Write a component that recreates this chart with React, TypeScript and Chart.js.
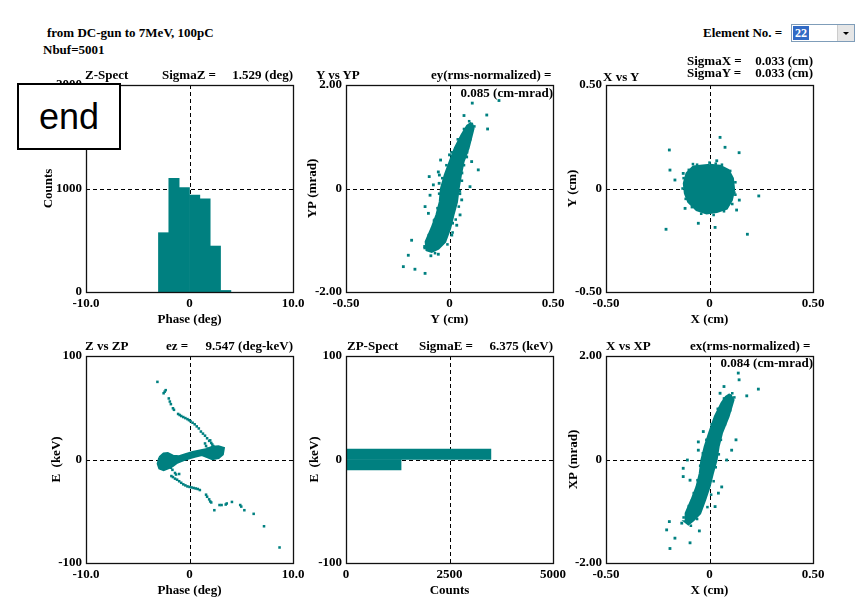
import React, { useEffect, useRef } from 'react';
import { Chart, registerables } from 'chart.js';
Chart.register(...registerables);

const TEAL = '#008080';
const SERIF = '"Liberation Serif", "Times New Roman", serif';

// ---- Z-Spect histogram (phase bins, deg) ----
const zBinCenters = [-2.5, -1.5, -0.5, 0.5, 1.5, 2.5, 3.5];
const zCounts = [573, 1098, 1008, 937, 899, 444, 15];

// ---- ZP-Spect histogram (energy bins, keV) ----
const eBinCenters = [5, -5];
const eCounts = [3500, 1330];

// ---- Y vs YP ----
const yypCore: number[][] = [
  [0.107, 1.27], [0.115, 1.16], [0.091, 0.78], [0.067, 0.52], [0.054, 0.26], [0.043, 0.0],
  [0.035, -0.26], [0.018, -0.51], [0.002, -0.77], [-0.022, -1.03], [-0.054, -1.16], [-0.086, -1.22],
  [-0.110, -1.19], [-0.114, -1.03], [-0.086, -0.77], [-0.062, -0.51], [-0.046, -0.26], [-0.040, 0.0],
  [-0.022, 0.26], [0.002, 0.52], [0.027, 0.78], [0.059, 1.03], [0.086, 1.21], [0.107, 1.27],
];
const yypEdge: number[][] = [
  [0.12, 1.2], [0.10, 0.95], [0.085, 0.7], [0.07, 0.45], [0.06, 0.15], [0.05, -0.05], [0.045, -0.35],
  [0.03, -0.6], [0.015, -0.85], [-0.01, -1.08], [-0.07, -1.25], [-0.12, -1.15], [-0.1, -0.9],
  [-0.075, -0.62], [-0.058, -0.38], [-0.05, -0.1], [-0.035, 0.2], [-0.015, 0.45], [0.01, 0.7],
  [0.04, 0.95], [0.07, 1.15], [0.095, 1.3],
];
const yypOut: number[][] = [
  [0.180, 1.42], [0.184, 1.15], [0.070, 1.41], [0.139, 0.36], [0.099, 0.035], [-0.078, 0.07],
  [-0.098, 0.23], [-0.049, 0.26], [-0.043, 0.55], [-0.118, -0.35], [-0.102, -0.48], [0.051, -0.51],
  [0.035, -0.71], [0.011, -0.90], [-0.183, -1.00], [-0.199, -1.29], [-0.223, -1.51], [-0.167, -1.56],
  [-0.118, -1.64], [-0.054, -1.27], [0.107, 0.52], [0.083, 0.61], [-0.054, 0.32], [-0.094, -0.13],
  [0.110, 1.65], [0.239, 1.70], [0.059, -0.22], [0.015, -0.67], [0.075, 0.95], [0.06, 0.3],
  [-0.07, -0.6], [0.0, 0.65], [-0.05, 0.1], [0.05, -0.1], [-0.09, -1.3], [-0.12, -1.12],
];

// ---- X vs Y ----
const xyCore: number[][] = [
  [0.002, 0.114], [-0.078, 0.105], [-0.110, 0.073], [-0.123, 0.025], [-0.118, -0.023], [-0.102, -0.064],
  [-0.062, -0.104], [-0.014, -0.120], [0.035, -0.112], [0.083, -0.096], [0.107, -0.056], [0.118, -0.007],
  [0.112, 0.049], [0.091, 0.089], [0.051, 0.109], [0.002, 0.114],
];
const xyEdge: number[][] = [
  [-0.13, 0.0], [-0.125, 0.05], [-0.1, 0.09], [-0.06, 0.115], [0.0, 0.125], [0.06, 0.115], [0.1, 0.085],
  [0.125, 0.03], [0.125, -0.03], [0.11, -0.075], [0.07, -0.11], [0.02, -0.128], [-0.04, -0.122],
  [-0.085, -0.09], [-0.115, -0.05], [-0.08, 0.118], [0.03, 0.12], [0.12, -0.02],
];
const xyOut: number[][] = [
  [-0.194, 0.186], [0.075, 0.199], [0.143, 0.173], [-0.191, 0.089], [-0.167, 0.041], [-0.127, 0.073],
  [0.035, 0.134], [0.238, -0.036], [0.144, -0.056], [-0.054, -0.168], [0.027, -0.188], [-0.210, -0.197],
  [0.183, -0.221], [0.131, -0.104], [-0.118, -0.096], [0.051, 0.247],
];

// ---- Z vs ZP ----
const zzpCore: number[][] = [
  [-2.9, 2], [-2.5, 5.5], [-2.1, 6], [-1.6, 3.5], [-1.0, 3], [-0.4, 5], [0.3, 7], [1.0, 8.5],
  [1.7, 10], [2.2, 12], [2.8, 12.5], [3.3, 11], [3.2, 5], [2.8, 1.5], [2.2, 0.5], [1.7, 2.5],
  [1.2, 4.5], [0.6, 3], [0.0, 1.5], [-0.6, -0.5], [-1.2, -3], [-1.6, -6], [-2.0, -8], [-2.5, -10],
  [-2.9, -8.5], [-3.05, -4], [-2.9, 2],
];
const zzpUpper: number[][] = [
  [-3.1, 75], [-2.5, 64], [-2.4, 65.5], [-2.3, 67], [-2.0, 59], [-1.9, 56], [-1.8, 53.5], [-1.6, 49.5],
  [-1.5, 48], [-1.1, 44], [-0.95, 43], [-0.8, 42], [-0.6, 41], [-0.4, 40], [-0.2, 39], [-0.05, 38],
  [0.1, 37], [0.3, 35.5], [0.5, 34], [0.7, 32], [0.9, 30], [1.1, 27], [1.3, 25], [1.5, 23],
  [1.7, 20.5], [1.9, 18], [2.1, 16], [2.3, 13], [1.5, 15.5], [1.6, 13], [1.75, 10.5], [2.0, 18.5], [2.2, 14.5],
];
const zzpLower: number[][] = [
  [-2.0, -5], [-1.8, -8], [-1.65, -10], [-1.75, -16], [-1.6, -17], [-1.4, -18.5], [-1.2, -19.5],
  [-1.0, -21], [-0.8, -22.5], [-0.6, -24], [-0.4, -25], [-0.2, -26], [0.0, -26.5], [0.2, -27],
  [0.4, -27.5], [0.6, -28], [0.8, -28.5], [1.0, -29.5], [1.6, -34], [1.7, -36], [1.9, -38.5],
  [2.0, -40.5], [2.1, -41.5], [2.4, -49], [2.9, -44], [3.1, -44], [3.5, -43.5], [3.6, -42.5],
  [4.1, -41], [4.9, -44], [5.0, -45.5], [5.3, -49], [6.2, -52.5], [7.2, -64.5], [8.7, -85],
  [-1.4, -13], [-1.3, -14.5], [-1.0, -14],
];

// ---- X vs XP ----
const xxpCore: number[][] = [
  [0.099, 1.26], [0.115, 1.15], [0.091, 0.83], [0.059, 0.51], [0.043, 0.25], [0.033, -0.01],
  [0.015, -0.27], [-0.001, -0.53], [-0.022, -0.78], [-0.046, -1.04], [-0.078, -1.17], [-0.102, -1.25],
  [-0.118, -1.20], [-0.114, -1.04], [-0.086, -0.78], [-0.062, -0.53], [-0.046, -0.27], [-0.038, -0.01],
  [-0.022, 0.25], [-0.001, 0.51], [0.027, 0.83], [0.059, 1.09], [0.080, 1.21], [0.099, 1.26],
];
const xxpEdge: number[][] = [
  [0.12, 1.2], [0.10, 0.95], [0.075, 0.68], [0.055, 0.38], [0.045, 0.1], [0.03, -0.15], [0.02, -0.42],
  [0.008, -0.68], [-0.01, -0.92], [-0.06, -1.15], [-0.09, -1.28], [-0.125, -1.12], [-0.1, -0.9],
  [-0.076, -0.65], [-0.058, -0.4], [-0.045, -0.12], [-0.032, 0.12], [-0.015, 0.38], [0.01, 0.68],
  [0.04, 0.98], [0.07, 1.18], [0.11, 1.28],
];
const xxpOut: number[][] = [
  [0.139, 1.67], [0.143, 1.54], [0.180, 1.23], [0.236, 1.36], [0.070, 1.41], [0.051, 1.28],
  [0.128, 0.38], [0.107, 0.18], [0.083, -0.01], [-0.107, -0.01], [-0.127, -0.17], [-0.127, -0.33],
  [-0.094, -0.40], [-0.054, 0.18], [-0.054, 0.34], [-0.030, 0.54], [0.059, -0.53], [0.043, -0.65],
  [0.027, -0.91], [-0.194, -1.20], [-0.207, -1.36], [-0.167, -1.52], [-0.191, -1.72], [-0.094, -1.61],
  [-0.049, -1.38], [-0.134, -1.23],
];

const toXY = (a: number[][]) => a.map(([x, y]) => ({ x, y }));
const poly = (a: number[][]) => ({
  type: 'scatter', data: toXY(a), showLine: true, fill: 'shape', tension: 0,
  backgroundColor: TEAL, borderColor: TEAL, borderWidth: 2.5, pointRadius: 0,
});
const dots = (a: number[][], r = 2) => ({
  type: 'scatter', data: toXY(a), showLine: false, pointStyle: 'rect', pointRadius: r,
  backgroundColor: TEAL, borderWidth: 0,
});

type Panel = {
  boxL: number; boxT: number; type: string; indexAxis?: 'x' | 'y';
  xr: [number, number]; yr: [number, number];
  xTicks: number[]; yTicks: number[]; xLabels: string[]; yLabels: string[];
  xTitle: string; yTitle: string; yGap: number; cross: [number, number];
  datasets: () => any[];
};

const panels: Panel[] = [
  {
    boxL: 86, boxT: 85, type: 'bar', xr: [-10, 10], yr: [0, 2000],
    xTicks: [-10, 0, 10], yTicks: [0, 1000, 2000], xLabels: ['-10.0', '0', '10.0'], yLabels: ['0', '1000', '2000'],
    xTitle: 'Phase (deg)', yTitle: 'Counts', yGap: 37, cross: [0, 1000],
    datasets: () => [{
      data: zBinCenters.map((x, i) => ({ x, y: zCounts[i] })), backgroundColor: TEAL, borderWidth: 0,
      barPercentage: 1, categoryPercentage: 1,
    }],
  },
  {
    boxL: 346, boxT: 85, type: 'scatter', xr: [-0.5, 0.5], yr: [-2, 2],
    xTicks: [-0.5, 0, 0.5], yTicks: [-2, 0, 2], xLabels: ['-0.50', '0', '0.50'], yLabels: ['-2.00', '0', '2.00'],
    xTitle: 'Y (cm)', yTitle: 'YP (mrad)', yGap: 33, cross: [0, 0],
    datasets: () => [poly(yypCore), dots(yypEdge, 1.8), dots(yypOut)],
  },
  {
    boxL: 606, boxT: 85, type: 'scatter', xr: [-0.5, 0.5], yr: [-0.5, 0.5],
    xTicks: [-0.5, 0, 0.5], yTicks: [-0.5, 0, 0.5], xLabels: ['-0.50', '0', '0.50'], yLabels: ['-0.50', '0', '0.50'],
    xTitle: 'X (cm)', yTitle: 'Y (cm)', yGap: 33, cross: [0, 0],
    datasets: () => [poly(xyCore), dots(xyEdge, 1.8), dots(xyOut)],
  },
  {
    boxL: 86, boxT: 356, type: 'scatter', xr: [-10, 10], yr: [-100, 100],
    xTicks: [-10, 0, 10], yTicks: [-100, 0, 100], xLabels: ['-10.0', '0', '10.0'], yLabels: ['-100', '0', '100'],
    xTitle: 'Phase (deg)', yTitle: 'E  (keV)', yGap: 29, cross: [0, 0],
    datasets: () => [poly(zzpCore), dots(zzpUpper, 1.8), dots(zzpLower, 1.8)],
  },
  {
    boxL: 346, boxT: 356, type: 'bar', indexAxis: 'y', xr: [0, 5000], yr: [-100, 100],
    xTicks: [0, 2500, 5000], yTicks: [-100, 0, 100], xLabels: ['0', '2500', '5000'], yLabels: ['-100', '0', '100'],
    xTitle: 'Counts', yTitle: 'E  (keV)', yGap: 31, cross: [2500, 0],
    datasets: () => [{
      data: eBinCenters.map((y, i) => ({ x: eCounts[i], y })), backgroundColor: TEAL, borderWidth: 0,
      barPercentage: 1, categoryPercentage: 1,
    }],
  },
  {
    boxL: 606, boxT: 356, type: 'scatter', xr: [-0.5, 0.5], yr: [-2, 2],
    xTicks: [-0.5, 0, 0.5], yTicks: [-2, 0, 2], xLabels: ['-0.50', '0', '0.50'], yLabels: ['-2.00', '0', '2.00'],
    xTitle: 'X (cm)', yTitle: 'XP (mrad)', yGap: 32, cross: [0, 0],
    datasets: () => [poly(xxpCore), dots(xxpEdge, 1.8), dots(xxpOut)],
  },
];

const S = 207, PADT = 14, PADR = 30, YW = 72, XH = 42;

function PanelChart({ p }: { p: Panel }) {
  const ref = useRef<HTMLCanvasElement>(null);
  useEffect(() => {
    const font = { family: SERIF, size: 13, weight: 'bold' as const };
    const crossFrame = {
      id: 'crossFrame',
      beforeDatasetsDraw(chart: any) {
        const { ctx, chartArea: a, scales } = chart;
        const px = Math.round(scales.x.getPixelForValue(p.cross[0])) + 0.5;
        const py = Math.round(scales.y.getPixelForValue(p.cross[1])) + 0.5;
        ctx.save();
        ctx.strokeStyle = '#000';
        ctx.lineWidth = 1;
        ctx.setLineDash([4, 3]);
        ctx.beginPath();
        ctx.moveTo(px, a.top); ctx.lineTo(px, a.bottom);
        ctx.moveTo(a.left, py); ctx.lineTo(a.right, py);
        ctx.stroke();
        ctx.restore();
      },
      afterDraw(chart: any) {
        const { ctx, chartArea: a } = chart;
        ctx.save();
        ctx.strokeStyle = '#111';
        ctx.lineWidth = 1.3;
        ctx.strokeRect(Math.round(a.left) + 0.5, Math.round(a.top) + 0.5, Math.round(a.right - a.left), Math.round(a.bottom - a.top));
        ctx.restore();
      },
    };
    const isBar = p.type === 'bar';
    const mkScale = (axis: 'x' | 'y') => {
      const r = axis === 'x' ? p.xr : p.yr;
      const tv = axis === 'x' ? p.xTicks : p.yTicks;
      const lb = axis === 'x' ? p.xLabels : p.yLabels;
      return {
        type: 'linear', min: r[0], max: r[1], offset: false,
        position: axis === 'x' ? 'bottom' : 'left',
        grid: { display: false, drawTicks: false },
        border: { display: false },
        afterBuildTicks: (s: any) => { s.ticks = tv.map((v) => ({ value: v })); },
        afterFit: (s: any) => { if (axis === 'x') s.height = XH; else s.width = YW; },
        ticks: {
          font, color: '#000', padding: 4, maxRotation: 0, minRotation: 0, autoSkip: false,
          callback: (_v: any, i: number) => lb[i],
        },
        title: {
          display: true, text: axis === 'x' ? p.xTitle : p.yTitle, font, color: '#000',
          padding: axis === 'x' ? { top: 0, bottom: 7 } : { top: YW - p.yGap - 7.8, bottom: 0 },
        },
      };
    };
    const chart = new Chart(ref.current as HTMLCanvasElement, {
      type: p.type as any,
      data: { datasets: p.datasets() },
      options: {
        animation: false,
        responsive: false,
        indexAxis: isBar ? (p.indexAxis ?? 'x') : 'x',
        layout: { padding: { left: 0, top: PADT, right: PADR, bottom: 0 } },
        plugins: { legend: { display: false }, tooltip: { enabled: false } },
        scales: { x: mkScale('x'), y: mkScale('y') } as any,
      } as any,
      plugins: [crossFrame],
    });
    return () => chart.destroy();
  }, [p]);
  return (
    <canvas
      ref={ref}
      width={YW + S + PADR}
      height={PADT + S + XH}
      style={{ position: 'absolute', left: p.boxL - YW, top: p.boxT - PADT }}
    />
  );
}

type T = { t: string; x: number; y: number; right?: boolean };
const texts: T[] = [
  { t: 'from DC-gun to 7MeV, 100pC', x: 47, y: 33 },
  { t: 'Nbuf=5001', x: 43, y: 50 },
  { t: 'Element No. =', x: 703, y: 33 },
  { t: 'Z-Spect', x: 85, y: 75 },
  { t: 'SigmaZ =', x: 162, y: 75 },
  { t: '1.529 (deg)', x: 293, y: 75, right: true },
  { t: 'Y vs YP', x: 316, y: 75 },
  { t: 'ey(rms-normalized) =', x: 431, y: 75 },
  { t: '0.085 (cm-mrad)', x: 553, y: 93, right: true },
  { t: 'X vs Y', x: 603, y: 77 },
  { t: 'SigmaX =', x: 687, y: 61 },
  { t: '0.033 (cm)', x: 813, y: 61, right: true },
  { t: 'SigmaY =', x: 687, y: 73 },
  { t: '0.033 (cm)', x: 813, y: 73, right: true },
  { t: 'Z vs ZP', x: 85, y: 346 },
  { t: 'ez =', x: 166, y: 346 },
  { t: '9.547 (deg-keV)', x: 293, y: 346, right: true },
  { t: 'ZP-Spect', x: 347, y: 346 },
  { t: 'SigmaE =', x: 419, y: 346 },
  { t: '6.375 (keV)', x: 553, y: 346, right: true },
  { t: 'X vs XP', x: 606, y: 346 },
  { t: 'ex(rms-normalized) =', x: 690, y: 346 },
  { t: '0.084 (cm-mrad)', x: 813, y: 363, right: true },
];

export default function App() {
  return (
    <div style={{ position: 'fixed', left: 0, top: 0, width: 855, height: 597, background: '#fff', overflow: 'hidden' }}>
      {panels.map((p, i) => <PanelChart key={i} p={p} />)}
      {texts.map((d, i) => (
        <div
          key={'t' + i}
          style={{
            position: 'absolute', top: d.y - 8, height: 16, lineHeight: '16px', whiteSpace: 'nowrap',
            font: `bold 13px ${SERIF}`, color: '#000',
            ...(d.right ? { right: 855 - d.x } : { left: d.x }),
          }}
        >{d.t}</div>
      ))}
      {/* Element No. dropdown */}
      <div style={{ position: 'absolute', left: 791, top: 24, width: 64, height: 18, background: '#fff', border: '1px solid #7f9db9', boxSizing: 'border-box' }}>
        <div style={{ position: 'absolute', left: 1, top: 1, width: 16, height: 14, background: '#316ac5', color: '#fff', font: `bold 12px ${SERIF}`, lineHeight: '14px', textAlign: 'center' }}>22</div>
        <div style={{ position: 'absolute', right: 0, top: 0, width: 16, height: 16, background: '#e6e6e6', borderLeft: '1px solid #ccc', display: 'flex', alignItems: 'center', justifyContent: 'center' }}>
          <div style={{ width: 0, height: 0, borderLeft: '3px solid transparent', borderRight: '3px solid transparent', borderTop: '3px solid #000' }} />
        </div>
      </div>
      {/* end box */}
      <div style={{
        position: 'absolute', left: 17, top: 83, width: 104, height: 67, boxSizing: 'border-box',
        border: '2px solid #000', background: '#fff', display: 'flex', alignItems: 'center', justifyContent: 'center',
        font: '36px "Liberation Sans", Arial, sans-serif', color: '#000', zIndex: 5,
      }}>end</div>
    </div>
  );
}
